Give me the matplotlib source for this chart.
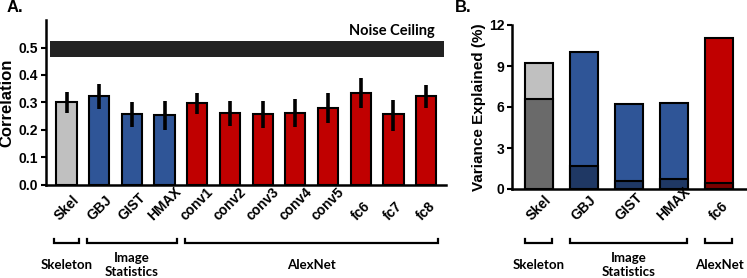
import matplotlib
matplotlib.use("Agg")
import matplotlib.pyplot as plt
from matplotlib.transforms import blended_transform_factory
from matplotlib.lines import Line2D

# ---------------- data ----------------
a_labels = ["Skel", "GBJ", "GIST", "HMAX", "conv1", "conv2", "conv3",
            "conv4", "conv5", "fc6", "fc7", "fc8"]
a_values = [0.300, 0.323, 0.258, 0.253, 0.297, 0.260, 0.258,
            0.260, 0.281, 0.335, 0.257, 0.323]
a_err_low = [0.261, 0.275, 0.211, 0.199, 0.258, 0.214, 0.205,
             0.211, 0.226, 0.281, 0.197, 0.278]
a_err_high = [0.337, 0.366, 0.303, 0.306, 0.335, 0.304, 0.306,
              0.311, 0.333, 0.388, 0.309, 0.363]
a_groups = ["skel", "img", "img", "img", "alex", "alex", "alex",
            "alex", "alex", "alex", "alex", "alex"]
noise_ceiling = (0.467, 0.524)
a_yticks = [0.0, 0.1, 0.2, 0.3, 0.4, 0.5]

b_labels = ["Skel", "GBJ", "GIST", "HMAX", "fc6"]
b_total = [9.2, 10.05, 6.25, 6.27, 11.07]
b_unique = [6.6, 1.7, 0.58, 0.71, 0.46]
b_groups = ["skel", "img", "img", "img", "alex"]
b_yticks = [0, 3, 6, 9, 12]

# group brackets: (label, first index, last index)
a_brackets = [("Skeleton", 0, 0), ("Image\nStatistics", 1, 3), ("AlexNet", 4, 11)]
b_brackets = [("Skeleton", 0, 0), ("Image\nStatistics", 1, 3), ("AlexNet", 4, 4)]

light = {"skel": "#c0c0c0", "img": "#2f5597", "alex": "#c00000"}
dark = {"skel": "#6a6a6a", "img": "#1f3864", "alex": "#7a0000"}

W, H = 747, 278
fig = plt.figure(figsize=(W / 100, H / 100), dpi=100)

TICKFONT = "Liberation Sans"
LABFONT = "Lato"


def px_box(left, top, right, bottom):
    return [left / W, 1 - bottom / H, (right - left) / W, (bottom - top) / H]


def style_axes(ax, labels, ticks, y_bottom):
    for s in ["top", "right"]:
        ax.spines[s].set_visible(False)
    for s in ["left", "bottom"]:
        ax.spines[s].set_linewidth(1.8)
        ax.spines[s].set_color("black")
    ax.tick_params(axis="y", length=3.5, width=1.5, labelsize=10, pad=2)
    for t in ax.get_yticklabels():
        t.set_fontweight("bold")
        t.set_fontfamily(TICKFONT)
    ax.set_xticks(ticks)
    ax.tick_params(axis="x", length=0, labelbottom=False)
    tr = blended_transform_factory(ax.transData, fig.transFigure)
    for x, lab in zip(ticks, labels):
        ax.text(x, 1 - y_bottom / H, lab, transform=tr, rotation=45.0,
                rotation_mode="default", ha="center", va="bottom",
                fontsize=10, fontweight="bold", family=TICKFONT,
                clip_on=False)


def brackets(ax, specs, pad, y_line=243.3, y_tip=239.0, y_text=265):
    tr = blended_transform_factory(ax.transData, fig.transFigure)
    for name, i0, i1 in specs:
        x0, x1 = i0 - pad, i1 + pad
        yl, yt = 1 - y_line / H, 1 - y_tip / H
        fig.add_artist(Line2D([x0, x0, x1, x1], [yt, yl, yl, yt], transform=tr,
                              color="black", lw=1.6, clip_on=False,
                              solid_joinstyle="miter"))
        fig.text((i0 + i1) / 2, 1 - y_text / H, name, transform=tr,
                 ha="center", va="center", fontsize=9.5, fontweight="bold",
                 family=LABFONT, linespacing=1.15)


# ---------------- panel A ----------------
axA = fig.add_axes(px_box(46, 20.2, 446, 184.6))
xa = list(range(len(a_labels)))
axA.bar(xa, a_values, width=0.62, color=[light[g] for g in a_groups],
        edgecolor="black", linewidth=1.5, zorder=2)
axA.vlines(xa, a_err_low, a_err_high, color="black", lw=2.6, zorder=3)
axA.axhspan(noise_ceiling[0], noise_ceiling[1], xmin=0.01, xmax=0.995,
            color="#222222", lw=0, zorder=1)
axA.text(11.28, 0.535, "Noise Ceiling", ha="right", va="bottom",
         fontsize=10.5, fontweight="bold", family=LABFONT)
axA.set_xlim(-0.63, 11.61)
axA.set_ylim(0, 0.6)
axA.set_yticks(a_yticks)
axA.set_yticklabels([f"{v:.1f}" for v in a_yticks])
style_axes(axA, a_labels, xa, 223)
axA.set_ylabel("Correlation", fontsize=12, fontweight="bold",
               family=TICKFONT, labelpad=3)
brackets(axA, a_brackets, pad=0.38)
fig.text(7 / W, 1 - 8 / H, "A.", fontsize=12, fontweight="bold",
         family=TICKFONT, ha="left", va="center")

# ---------------- panel B ----------------
axB = fig.add_axes(px_box(511.7, 25, 746, 189))
xb = list(range(len(b_labels)))
axB.bar(xb, b_total, width=0.615, color=[light[g] for g in b_groups],
        edgecolor="black", linewidth=1.5, zorder=2)
axB.bar(xb, b_unique, width=0.615, color=[dark[g] for g in b_groups],
        edgecolor="black", linewidth=1.5, zorder=3)
axB.set_xlim(-0.6, 4.6)
axB.set_ylim(0, 12)
axB.set_yticks(b_yticks)
axB.set_yticklabels([str(v) for v in b_yticks])
style_axes(axB, b_labels, xb, 223)
axB.set_ylabel("Variance Explained (%)", fontsize=11, fontweight="bold",
               family=TICKFONT, labelpad=2)
brackets(axB, b_brackets, pad=0.3)
fig.text(455 / W, 1 - 8 / H, "B.", fontsize=12, fontweight="bold",
         family=TICKFONT, ha="left", va="center")

fig.savefig("out.png", dpi=100)
